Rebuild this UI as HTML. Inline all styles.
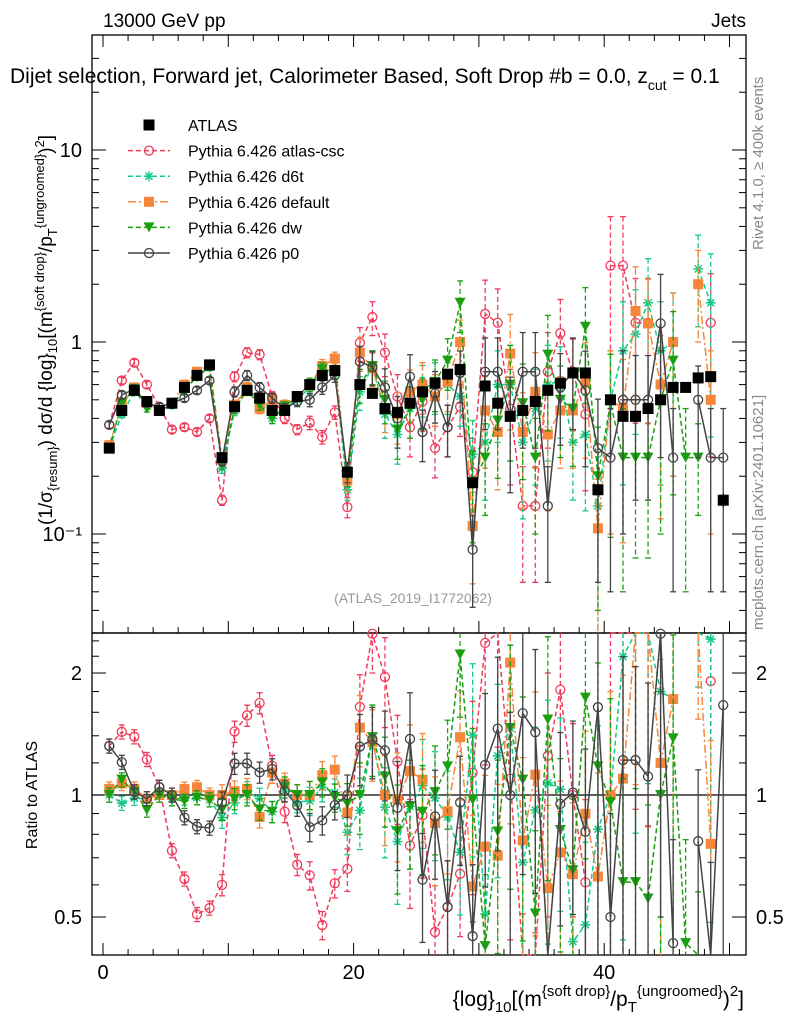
<!DOCTYPE html>
<html><head><meta charset="utf-8"><style>
body{margin:0;background:#fff;}
svg{display:block;font-family:"Liberation Sans",sans-serif;}
</style></head><body>
<svg id="chart" width="786" height="1024" viewBox="0 0 786 1024" xmlns="http://www.w3.org/2000/svg">
<rect x="0" y="0" width="786" height="1024" fill="#fff"/>
<text x="103" y="27" font-size="19">13000 GeV pp</text>
<text x="746" y="27" font-size="19" text-anchor="end">Jets</text>
<text x="10" y="83" font-size="21">Dijet selection, Forward jet, Calorimeter Based, Soft Drop #b = 0.0, z<tspan font-size="14" dy="7">cut</tspan><tspan dy="-7"> = 0.1</tspan></text>
<text transform="translate(763,250) rotate(-90)" font-size="15" fill="#888">Rivet 4.1.0, ≥ 400k events</text>
<text transform="translate(763,630) rotate(-90)" font-size="15" fill="#888">mcplots.cern.ch [arXiv:2401.10621]</text>
<text x="413" y="603" font-size="14" fill="#999" text-anchor="middle">(ATLAS_2019_I1772062)</text>
<text transform="translate(52,330) rotate(-90)" font-size="19" text-anchor="middle">(1/σ<tspan font-size="13" dy="5">{resum}</tspan><tspan dy="-5">) dσ/d {log}</tspan><tspan font-size="13" dy="5">10</tspan><tspan dy="-5">[(m</tspan><tspan font-size="13" dy="-8">{soft drop}</tspan><tspan dy="8">/p</tspan><tspan font-size="13" dy="5">T</tspan><tspan font-size="13" dy="-13">{ungroomed}</tspan><tspan dy="8">)</tspan><tspan font-size="13" dy="-8">2</tspan><tspan dy="8">]</tspan></text>
<text transform="translate(37,795) rotate(-90)" font-size="16" text-anchor="middle">Ratio to ATLAS</text>
<text x="744" y="1006" font-size="21" text-anchor="end">{log}<tspan font-size="15" dy="6">10</tspan><tspan dy="-6">[(m</tspan><tspan font-size="15" dy="-10">{soft drop}</tspan><tspan dy="10">/p</tspan><tspan font-size="15" dy="6">T</tspan><tspan font-size="15" dy="-16">{ungroomed}</tspan><tspan dy="10">)</tspan><tspan font-size="15" dy="-10">2</tspan><tspan dy="10">]</tspan></text>
<g id="plot"></g>
</svg>
<script>
const atlas=[0.28,0.44,0.56,0.49,0.44,0.48,0.58,0.67,0.76,0.25,0.46,0.56,0.51,0.44,0.44,0.52,0.60,0.67,0.71,0.21,0.60,0.54,0.45,0.43,0.48,0.55,0.61,0.68,0.72,0.185,0.59,0.48,0.41,0.44,0.49,0.56,0.61,0.69,0.69,0.17,0.50,0.41,0.41,0.45,0.50,0.58,0.58,0.65,0.66,0.15];
const atlasErr=[0.02,0.02,0.02,0.02,0.02,0.02,0.02,0.02,0.02,0.03,0.02,0.02,0.02,0.02,0.02,0.02,0.02,0.02,0.02,0.03,0.03,0.03,0.03,0.03,0.03,0.03,0.03,0.03,0.03,0.05,0.04,0.04,0.04,0.04,0.04,0.04,0.04,0.04,0.04,0.06,0.05,0.05,0.05,0.05,0.05,0.05,0.05,0.05,0.05,0.08];
const csc=[0.37,0.63,0.78,0.60,0.46,0.35,0.36,0.34,0.40,0.15,0.66,0.88,0.86,0.52,0.40,0.35,0.38,0.32,0.43,0.138,0.99,1.35,0.88,0.52,0.36,0.49,0.28,0.36,0.46,0.21,1.40,1.26,0.45,0.14,0.14,0.70,1.11,0.69,0.42,null,2.5,2.5,1.26,1.26,null,null,null,null,1.26,null];
const d6t=[0.28,0.42,0.55,0.48,0.44,0.47,0.57,0.66,0.74,0.22,0.44,0.57,0.50,0.40,0.45,0.50,0.58,0.70,0.72,0.17,0.55,0.75,0.42,0.33,0.45,0.58,0.60,0.60,0.52,0.26,0.30,0.60,0.60,0.30,0.45,0.60,0.63,0.30,0.33,0.14,0.50,0.90,1.10,1.60,0.90,1.0,null,2.40,1.60,null];
const dflt=[0.29,0.47,0.58,0.48,0.44,0.48,0.60,0.70,0.76,0.25,0.47,0.58,0.45,0.50,0.47,0.52,0.60,0.75,0.82,0.19,0.88,0.73,0.45,0.42,0.55,0.60,0.52,0.62,1.0,0.11,0.44,0.34,0.87,0.34,0.55,0.33,0.44,0.44,0.62,0.107,0.50,0.45,1.45,1.25,0.60,1.0,null,2.0,0.50,null];
const dw=[0.28,0.48,0.57,0.45,0.44,0.47,0.56,0.66,0.74,0.23,0.45,0.56,0.47,0.40,0.46,0.52,0.60,0.72,0.70,0.20,0.60,0.75,0.50,0.35,0.45,0.50,0.62,0.80,1.60,0.18,0.25,0.39,0.60,0.48,0.25,0.86,0.50,0.45,1.20,0.20,0.48,0.25,0.25,0.25,0.50,0.80,0.25,0.25,null,null];
const p0=[0.37,0.53,0.57,0.48,0.46,0.48,0.51,0.56,0.63,0.24,0.55,0.67,0.58,0.51,0.45,0.49,0.50,0.58,0.67,0.21,0.79,0.74,0.58,0.40,0.66,0.34,0.54,0.36,0.69,0.083,0.70,0.70,0.41,0.70,0.70,0.14,0.58,0.70,0.56,0.28,0.25,0.50,0.50,0.50,1.25,0.25,null,0.50,0.25,0.25];
const mcErr=[0.04,0.04,0.04,0.04,0.04,0.04,0.04,0.04,0.04,0.06,0.06,0.06,0.06,0.06,0.06,0.06,0.08,0.08,0.08,0.12,0.2,0.2,0.25,0.3,0.3,0.3,0.3,0.3,0.3,0.5,0.5,0.5,0.6,0.6,0.6,0.6,0.5,0.5,0.6,0.8,0.8,0.8,0.7,0.7,0.8,0.8,0.8,0.5,0.8,0.8];
const xTicks=[0,20,40];
const yTickLabels=["10⁻¹","1","10"];
const yTickVals=[0.1,1,10];
const rTickVals=[0.5,1,2];
const rTickLabels=["0.5","1","2"];
const legendNames=["ATLAS","Pythia 6.426 atlas-csc","Pythia 6.426 d6t","Pythia 6.426 default","Pythia 6.426 dw","Pythia 6.426 p0"];

const NS="http://www.w3.org/2000/svg";
const g=document.getElementById('plot');
const L=92,R=746,T=35,MB=633,RB=955;
function X(v){return 103+v*12.53;}
function Y(v){return 342-Math.log10(v)*192;}
function RY(v){return 795-Math.log2(v)*122;}
function el(tag,at,parent){const e=document.createElementNS(NS,tag);for(const k in at)e.setAttribute(k,at[k]);(parent||g).appendChild(e);return e;}
function clampY(y,top,bot){return Math.max(top,Math.min(bot,y));}

let f=el('rect',{x:L,y:T,width:R-L,height:MB-T,fill:'none',stroke:'#000','stroke-width':1.3});


f=el('rect',{x:L,y:MB,width:R-L,height:RB-MB,fill:'none',stroke:'#000','stroke-width':1.3});


let ref=el('line',{x1:L,x2:R,y1:RY(1),y2:RY(1),stroke:'#000','stroke-width':1.3});



for(let v=0;v<=50;v+=2){
  const major=v%10===0, len=major?12:6, x=X(v);
  if(x>R)continue;
  for(const yb of [MB,RB]){
    const t=el('line',{x1:x,x2:x,y1:yb,y2:yb-len,stroke:'#000'});
    
    
  }
  const t=el('line',{x1:x,x2:x,y1:T,y2:T+len,stroke:'#000'});
  
  
}
xTicks.forEach(v=>{const t=el('text',{x:X(v),y:979,'font-size':20,'text-anchor':'middle'});t.textContent=v;

});

for(let d=-2;d<=1;d++){for(let m=1;m<=9;m++){const v=m*Math.pow(10,d);const y=Y(v);if(y<T||y>MB)continue;const len=m===1?14:7;
  for(const [x1,x2] of [[L,L+len],[R,R-len]]){const t=el('line',{x1:x1,x2:x2,y1:y,y2:y,stroke:'#000'});
  
  }}}
yTickVals.forEach((v,i)=>{const t=el('text',{x:82,y:Y(v)+7,'font-size':20,'text-anchor':'end'});t.textContent=yTickLabels[i];

});

[0.5,0.6,0.7,0.8,0.9,1,1.2,1.4,1.6,1.8,2,2.2,2.4].forEach(v=>{const y=RY(v);const major=rTickVals.includes(v);const len=major?14:7;
  for(const [x1,x2] of [[L,L+len],[R,R-len]]){const t=el('line',{x1:x1,x2:x2,y1:y,y2:y,stroke:'#000'});
  
  }});
rTickVals.forEach((v,i)=>{for(const [x,a] of [[82,'end'],[756,'start']]){const t=el('text',{x:x,y:RY(v)+7,'font-size':20,'text-anchor':a});t.textContent=rTickLabels[i];

}});

function marker(kind,x,y,color,parent){
  if(kind==='sq')return el('rect',{x:x-5.5,y:y-5.5,width:11,height:11,fill:'#000'},parent);
  if(kind==='circ')return el('circle',{cx:x,cy:y,r:4.5,fill:'none',stroke:color,'stroke-width':1.3},parent);
  if(kind==='fsq')return el('rect',{x:x-5,y:y-5,width:10,height:10,fill:color},parent);
  if(kind==='tri')return el('path',{d:`M${x-5.5},${y-5}L${x+5.5},${y-5}L${x},${y+5}Z`,fill:color},parent);
  if(kind==='star'){const s=el('g',{stroke:color,'stroke-width':1.5},parent);
    [[0,5],[5,0],[3.5,3.5],[3.5,-3.5]].forEach(([a,b])=>el('line',{x1:x-a,y1:y-b,x2:x+a,y2:y+b},s));return s;}
}

const series=[
 {name:'atlas-csc',data:csc,color:'#f03c5c',dash:'5,3',mk:'circ'},
 {name:'d6t',data:d6t,color:'#15c98a',dash:'5,3',mk:'star'},
 {name:'default',data:dflt,color:'#f5863a',dash:'8,3,2,3',mk:'fsq'},
 {name:'dw',data:dw,color:'#1aa00e',dash:'5,3',mk:'tri'},
 {name:'p0',data:p0,color:'#444',dash:'',mk:'circ'}
];

function drawSeries(s,yfun,top,bot,ratio,gname){
  const grp=el('g',{});
  
  
  let pts=[];
  s.data.forEach((v,i)=>{
    if(v===null){if(pts.length)pts.push(null);return;}
    let val=ratio?v/atlas[i]:v;
    const x=X(i+0.5), y=yfun(val);
    const e=mcErr[i];
    const yu=clampY(yfun(val*(1+e)),top,bot), yl=(1-e)>0?clampY(yfun(val*(1-e)),top,bot):bot;
    const eb=el('line',{x1:x,x2:x,y1:yu,y2:yl,stroke:s.color,'stroke-width':1.3,'stroke-dasharray':s.dash},grp);
    
    
    [yu,yl].forEach(yy=>{if(yy>top&&yy<bot)el('line',{x1:x-3,x2:x+3,y1:yy,y2:yy,stroke:s.color,'stroke-width':1.3},grp);});
    pts.push([x,clampY(y,top,bot),y>=top&&y<=bot]);
  });
  let d='',pen=false;
  pts.forEach(p=>{if(!p){pen=false;return;}d+=(pen?'L':'M')+p[0].toFixed(1)+','+p[1].toFixed(1);pen=true;});
  const ln=el('path',{d:d,fill:'none',stroke:s.color,'stroke-width':1.5,'stroke-dasharray':s.dash},grp);
  
  
  pts.forEach(p=>{if(p&&p[2]){const m=marker(s.mk,p[0],p[1],s.color,grp);
    
    }});
}

series.forEach(s=>{drawSeries(s,Y,T,MB,false,'series-'+s.name);});
const ag=el('g',{});


atlas.forEach((v,i)=>{const x=X(i+0.5);
  el('line',{x1:x,x2:x,y1:Y(v*(1+atlasErr[i])),y2:Y(v*(1-atlasErr[i])),stroke:'#000','stroke-width':1.3},ag);
  const m=marker('sq',x,Y(v),'#000',ag);
  
  });
series.forEach(s=>{drawSeries(s,RY,MB,RB,true,'ratio-'+s.name);});

const lg=el('g',{});


const lmk=['sq','circ','star','fsq','tri','circ'];
const lcol=['#000','#f03c5c','#15c98a','#f5863a','#1aa00e','#444'];
const ldash=['','5,3','5,3','8,3,2,3','5,3',''];
legendNames.forEach((n,i)=>{const y=125+i*25.6;
  const e=el('g',{},lg);
  
  
  if(i>0)el('line',{x1:128,x2:170,y1:y,y2:y,stroke:lcol[i],'stroke-width':1.5,'stroke-dasharray':ldash[i]},e);
  marker(lmk[i],149,y,lcol[i],e);
  const t=el('text',{x:188,y:y+6,'font-size':16},e);t.textContent=n;});
</script>
</body></html>
